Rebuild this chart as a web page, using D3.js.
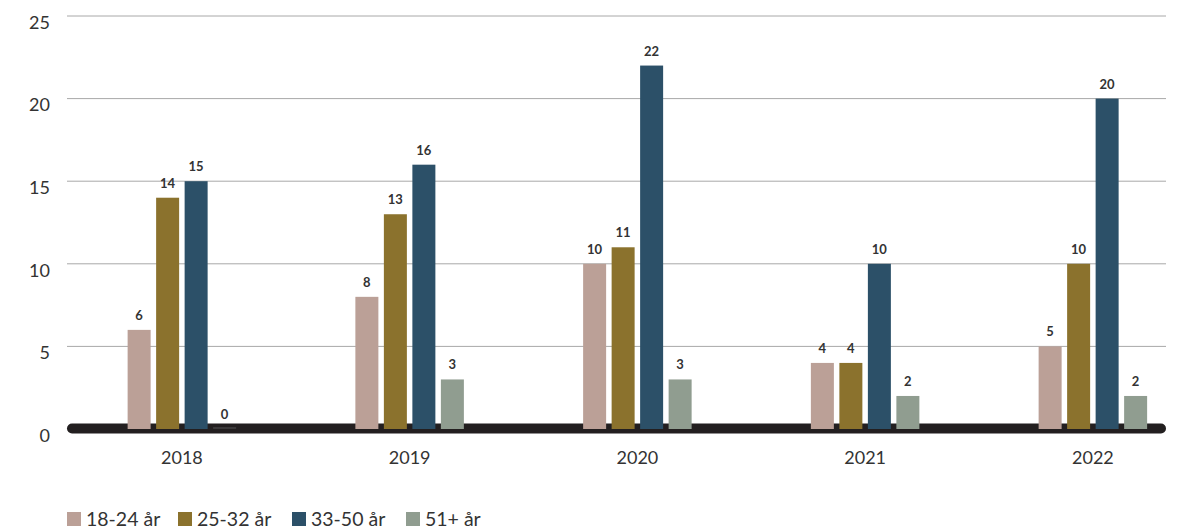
<!DOCTYPE html>
<html><head><meta charset="utf-8">
<script src="https://cdn.jsdelivr.net/npm/d3@7"></script>
<style>body{margin:0;background:#fff}svg{display:block}text{font-family:Lato,"Open Sans",sans-serif}</style>
</head><body>
<svg id="c" width="1189" height="530"></svg>
<script>
const years = ["2018","2019","2020","2021","2022"];
const seriesNames = ["18-24 år","25-32 år","33-50 år","51+ år"];
const s1824 = [6,8,10,4,5];
const s2532 = [14,13,11,4,10];
const s3350 = [15,16,22,10,20];
const s51 = [0,3,3,2,2];
const yTicks = [0,5,10,15,20,25];
const colors = ["#bba097","#8b722d","#2c5068","#909d90"];
const seriesVals = [s1824,s2532,s3350,s51];

const svg = d3.select("#c");
const y = d3.scaleLinear().domain([0,25]).range([429,16]);
const x = d3.scaleBand().domain(years).range([68, 68+5*227.75]);
const xi = d3.scaleBand().domain(seriesNames).range([-54.25,54.25]).paddingInner(0.193);
const gx0 = 67, gx1 = 1166;

svg.append("g").selectAll("line").data(yTicks.filter(d=>d>0)).join("line")
  .attr("x1",gx0).attr("x2",gx1).attr("y1",d=>y(d)).attr("y2",d=>y(d))
  .attr("stroke","#a8a8a8").attr("stroke-width",1);
const yAxis = d3.axisLeft(y).tickValues(yTicks).tickSize(0).tickPadding(0);
const ya = svg.append("g").attr("transform","translate(50,0)").call(yAxis);
ya.select(".domain").remove();
ya.selectAll("text").attr("font-size",18).attr("fill","#333").attr("dy","0.35em").attr("y",6);

svg.append("line").attr("x1",gx0+5).attr("x2",gx1-5).attr("y1",428.5).attr("y2",428.5)
  .attr("stroke","#231f20").attr("stroke-width",10).attr("stroke-linecap","round");

const data = [];
years.forEach((yr,i)=>seriesNames.forEach((s,j)=>data.push({yr,s,j,v:seriesVals[j][i]})));
const cx = d=> x(d.yr)+x.bandwidth()/2 + xi(d.s);
svg.append("g").selectAll("rect").data(data).join("rect")
  .attr("x",cx).attr("width",xi.bandwidth())
  .attr("y",d=> d.v===0 ? y(0)-1.5 : y(d.v))
  .attr("height",d=> d.v===0 ? 1 : y(0)-y(d.v))
  .attr("fill",d=> d.v===0 ? "#555" : colors[d.j]);
svg.append("g").selectAll("text").data(data).join("text")
  .attr("x",d=>cx(d)+xi.bandwidth()/2).attr("y",d=>y(d.v)-10)
  .attr("text-anchor","middle").attr("font-size",13).attr("font-weight",700).attr("fill","#333")
  .text(d=>d.v);

const xAxis = d3.axisBottom(x).tickSize(0).tickPadding(0);
const xa = svg.append("g").attr("transform","translate(0,451)").call(xAxis);
xa.select(".domain").remove();
xa.selectAll("text").attr("font-size",18).attr("fill","#333").attr("dy","0.71em");

const legX = [67,178,292,406];
const lg = svg.append("g").selectAll("g").data(seriesNames).join("g")
  .attr("transform",(d,i)=>`translate(${legX[i]},512)`);
lg.append("rect").attr("width",14).attr("height",14).attr("fill",(d,i)=>colors[i]);
lg.append("text").attr("x",19).attr("y",14).attr("font-size",19.5).attr("fill","#333").text(d=>d);
</script>
</body></html>
